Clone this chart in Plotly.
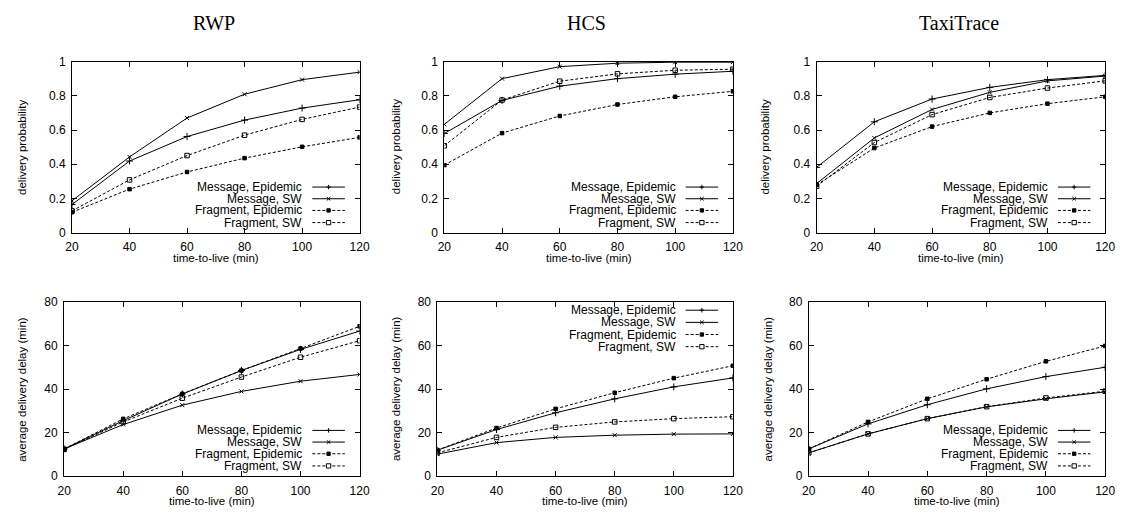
import plotly.graph_objects as go

W, H = 1129, 525
ttl = [20, 40, 60, 80, 100, 120]
series_names = ["Message, Epidemic", "Message, SW", "Fragment, Epidemic", "Fragment, SW"]
panel_titles = ["RWP", "HCS", "TaxiTrace"]

# delivery probability
rwp_prob_msg_epi = [0.165, 0.419, 0.562, 0.658, 0.728, 0.777]
rwp_prob_msg_sw = [0.187, 0.443, 0.670, 0.809, 0.894, 0.938]
rwp_prob_frag_epi = [0.120, 0.255, 0.355, 0.436, 0.502, 0.557]
rwp_prob_frag_sw = [0.128, 0.309, 0.451, 0.570, 0.662, 0.734]

hcs_prob_msg_epi = [0.580, 0.773, 0.856, 0.900, 0.926, 0.943]
hcs_prob_msg_sw = [0.633, 0.900, 0.970, 0.990, 0.996, 0.996]
hcs_prob_frag_epi = [0.395, 0.582, 0.682, 0.749, 0.794, 0.826]
hcs_prob_frag_sw = [0.508, 0.775, 0.885, 0.928, 0.949, 0.955]

taxi_prob_msg_epi = [0.382, 0.648, 0.781, 0.849, 0.894, 0.919]
taxi_prob_msg_sw = [0.287, 0.554, 0.720, 0.820, 0.887, 0.915]
taxi_prob_frag_epi = [0.280, 0.495, 0.620, 0.700, 0.754, 0.794]
taxi_prob_frag_sw = [0.272, 0.527, 0.690, 0.790, 0.845, 0.887]

# average delivery delay (min)
rwp_delay_msg_epi = [12.5, 25.5, 37.7, 48.5, 58.2, 66.6]
rwp_delay_msg_sw = [12.5, 23.7, 32.6, 38.9, 43.6, 46.7]
rwp_delay_frag_epi = [12.5, 26.3, 37.8, 48.5, 58.6, 68.8]
rwp_delay_frag_sw = [12.3, 24.9, 35.8, 45.5, 54.6, 62.2]

hcs_delay_msg_epi = [11.9, 21.4, 29.1, 35.5, 41.0, 45.1]
hcs_delay_msg_sw = [10.1, 15.4, 17.8, 18.8, 19.3, 19.4]
hcs_delay_frag_epi = [12.0, 22.1, 30.9, 38.3, 45.0, 50.7]
hcs_delay_frag_sw = [10.7, 17.8, 22.4, 24.9, 26.4, 27.3]

taxi_delay_msg_epi = [12.5, 24.0, 32.8, 40.1, 45.7, 50.0]
taxi_delay_msg_sw = [10.7, 19.4, 26.4, 31.8, 35.5, 38.7]
taxi_delay_frag_epi = [12.5, 24.9, 35.5, 44.5, 52.7, 59.8]
taxi_delay_frag_sw = [10.7, 19.4, 26.4, 31.9, 35.9, 39.0]

prob_ticks = [0, 0.2, 0.4, 0.6, 0.8, 1]
prob_tick_labels = ["0", "0.2", "0.4", "0.6", "0.8", "1"]
delay_ticks = [0, 20, 40, 60, 80]
delay_tick_labels = ["0", "20", "40", "60", "80"]
x_ticks = [20, 40, 60, 80, 100, 120]

panels = [
    dict(data=[rwp_prob_msg_epi, rwp_prob_msg_sw, rwp_prob_frag_epi, rwp_prob_frag_sw],
         px=(66, 358), py=(56, 232), kind="prob", leg="bottom", ytx=15),
    dict(data=[hcs_prob_msg_epi, hcs_prob_msg_sw, hcs_prob_frag_epi, hcs_prob_frag_sw],
         px=(444, 737), py=(56, 232), kind="prob", leg="bottom", ytx=395),
    dict(data=[taxi_prob_msg_epi, taxi_prob_msg_sw, taxi_prob_frag_epi, taxi_prob_frag_sw],
         px=(822, 1115), py=(56, 232), kind="prob", leg="bottom", ytx=770),
    dict(data=[rwp_delay_msg_epi, rwp_delay_msg_sw, rwp_delay_frag_epi, rwp_delay_frag_sw],
         px=(58, 358), py=(303, 482), kind="delay", leg="bottom", ytx=15),
    dict(data=[hcs_delay_msg_epi, hcs_delay_msg_sw, hcs_delay_frag_epi, hcs_delay_frag_sw],
         px=(437, 737), py=(303, 482), kind="delay", leg="top", ytx=395),
    dict(data=[taxi_delay_msg_epi, taxi_delay_msg_sw, taxi_delay_frag_epi, taxi_delay_frag_sw],
         px=(814, 1115), py=(303, 482), kind="delay", leg="bottom", ytx=773),
]

styles = [
    dict(dash="solid", symbol="cross-thin", size=5),
    dict(dash="solid", symbol="x-thin", size=4),
    dict(dash="3px,2px", symbol="square", size=3.5),
    dict(dash="3px,2px", symbol="square-open", size=4.5),
]

FONT = "Liberation Sans, Arial, sans-serif"
TICK_SIZE = 12
TITLE_SIZE = 11.5
LEG_SIZE = 12

fig = go.Figure()
shapes = []
annotations = []
layout = dict(width=W, height=H, margin=dict(l=0, r=0, t=0, b=0),
              paper_bgcolor="white", plot_bgcolor="white", showlegend=False,
              font=dict(family=FONT, size=TICK_SIZE, color="black"))

for i, p in enumerate(panels):
    n = i + 1
    xa = "xaxis" if n == 1 else f"xaxis{n}"
    ya = "yaxis" if n == 1 else f"yaxis{n}"
    xr = "x" if n == 1 else f"x{n}"
    yr = "y" if n == 1 else f"y{n}"
    x0p, x1p = p["px"]
    y0p, y1p = p["py"]
    wpx, hpx = x1p - x0p, y1p - y0p
    common = dict(showline=True, linecolor="black", linewidth=1, mirror="ticks",
                  ticks="inside", ticklen=5, tickwidth=1, tickcolor="black",
                  showgrid=False, zeroline=False, fixedrange=True,
                  ticklabelstandoff=3,
                  tickfont=dict(family=FONT, size=TICK_SIZE, color="black"))
    layout[xa] = dict(domain=[x0p / W, x1p / W], range=[20, 120], anchor=yr,
                      tickvals=x_ticks, **common)
    if p["kind"] == "prob":
        layout[ya] = dict(domain=[1 - y1p / H, 1 - y0p / H], range=[0, 1], anchor=xr,
                          tickvals=prob_ticks, ticktext=prob_tick_labels, **common)
        ytitle = "delivery probability"
    else:
        layout[ya] = dict(domain=[1 - y1p / H, 1 - y0p / H], range=[0, 80], anchor=xr,
                          tickvals=delay_ticks, ticktext=delay_tick_labels, **common)
        ytitle = "average delivery delay (min)"

    for s, (vals, st) in enumerate(zip(p["data"], styles)):
        fig.add_trace(go.Scatter(
            x=ttl, y=vals, xaxis=xr, yaxis=yr, mode="lines+markers",
            name=series_names[s],
            line=dict(color="black", width=1, dash=st["dash"]),
            marker=dict(symbol=st["symbol"], size=st["size"], color="black",
                        line=dict(color="black", width=1))))

    # axis titles
    annotations.append(dict(text="time-to-live (min)", xref="paper", yref="paper",
                            x=(x0p + x1p) / 2 / W, y=1 - (y1p + 26) / H,
                            xanchor="center", yanchor="middle", showarrow=False,
                            font=dict(family=FONT, size=TITLE_SIZE, color="black")))
    annotations.append(dict(text=ytitle, xref="paper", yref="paper", textangle=-90,
                            x=p["ytx"] / W, y=1 - (y0p + y1p) / 2 / H,
                            xanchor="center", yanchor="middle", showarrow=False,
                            font=dict(family=FONT, size=TITLE_SIZE, color="black")))

    # custom legend (text right-aligned, sample on the right)
    if p["leg"] == "bottom":
        row_px = [hpx - 47, hpx - 35, hpx - 23, hpx - 10.5]
    else:
        row_px = [8.5, 21, 33.5, 46]
    text_right = x1p - 56
    line_a, line_b = x1p - 48, x1p - 15
    mid = (line_a + line_b) / 2
    for s, st in enumerate(styles):
        ry = y0p + row_px[s]
        fy = 1 - ry / H
        annotations.append(dict(text=series_names[s], xref="paper", yref="paper",
                                x=text_right / W, y=fy, xanchor="right", yanchor="middle",
                                showarrow=False,
                                font=dict(family=FONT, size=LEG_SIZE, color="black")))
        shapes.append(dict(type="line", xref="paper", yref="paper",
                           x0=line_a / W, x1=line_b / W, y0=fy, y1=fy,
                           line=dict(color="black", width=1, dash=st["dash"])))
        r = 1.8
        if st["symbol"] == "cross-thin":
            shapes.append(dict(type="line", xref="paper", yref="paper",
                               x0=(mid - 2.3) / W, x1=(mid + 2.3) / W, y0=fy, y1=fy,
                               line=dict(color="black", width=1)))
            shapes.append(dict(type="line", xref="paper", yref="paper",
                               x0=mid / W, x1=mid / W, y0=fy - 2.3 / H, y1=fy + 2.3 / H,
                               line=dict(color="black", width=1)))
        elif st["symbol"] == "x-thin":
            shapes.append(dict(type="line", xref="paper", yref="paper",
                               x0=(mid - r) / W, x1=(mid + r) / W, y0=fy - r / H, y1=fy + r / H,
                               line=dict(color="black", width=1)))
            shapes.append(dict(type="line", xref="paper", yref="paper",
                               x0=(mid - r) / W, x1=(mid + r) / W, y0=fy + r / H, y1=fy - r / H,
                               line=dict(color="black", width=1)))
        elif st["symbol"] == "square":
            shapes.append(dict(type="rect", xref="paper", yref="paper",
                               x0=(mid - 1.7) / W, x1=(mid + 1.7) / W, y0=fy - 1.7 / H, y1=fy + 1.7 / H,
                               line=dict(color="black", width=1), fillcolor="black"))
        else:
            shapes.append(dict(type="rect", xref="paper", yref="paper",
                               x0=(mid - 2.2) / W, x1=(mid + 2.2) / W, y0=fy - 2.2 / H, y1=fy + 2.2 / H,
                               line=dict(color="black", width=1), fillcolor="white"))

for j, t in enumerate(panel_titles):
    p = panels[j]
    annotations.append(dict(text=t, xref="paper", yref="paper",
                            x=(p["px"][0] + p["px"][1]) / 2 / W - 2 / W, y=1 - 16 / H,
                            xanchor="center", yanchor="middle", showarrow=False,
                            font=dict(family="Liberation Serif, Times New Roman, serif",
                                      size=20, color="black")))

layout["shapes"] = shapes
layout["annotations"] = annotations
fig.update_layout(**layout)
fig.write_html("out.html", config={"displayModeBar": False, "staticPlot": False})

# remove default page margins so the figure sits at the window's top-left corner
with open("out.html", "r", encoding="utf-8") as f:
    html = f.read()
html = html.replace("<head>", "<head><style>html,body{margin:0;padding:0;overflow:hidden;}</style>", 1)
with open("out.html", "w", encoding="utf-8") as f:
    f.write(html)
